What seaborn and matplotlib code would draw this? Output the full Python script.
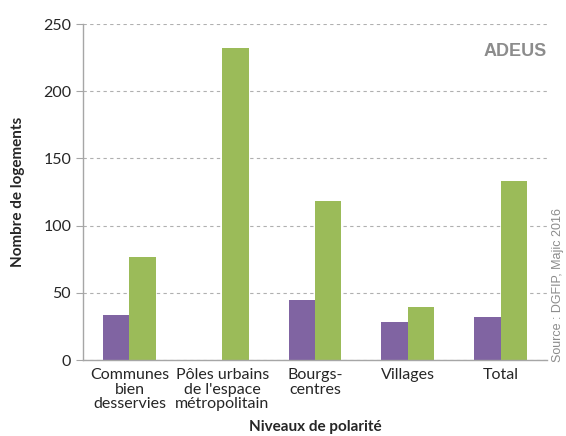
import pandas as pd
import matplotlib.pyplot as plt
import seaborn as sns

categories = ["Communes\nbien\ndesservies", "Pôles urbains\nde l'espace\nmétropolitain",
              "Bourgs-\ncentres", "Villages", "Total"]
serie_a = [33.5, 0, 44.5, 28, 32]
serie_b = [76.5, 232.5, 118, 39.5, 133]
series = ["A", "B"]

df = pd.DataFrame({
    "niveau": categories * 2,
    "serie": [series[0]] * 5 + [series[1]] * 5,
    "valeur": serie_a + serie_b,
})

sns.set_style("white")
plt.rcParams['font.family'] = ['Lato', 'DejaVu Sans']

fig = plt.figure(figsize=(5.66, 4.36), dpi=100)
ax = fig.add_axes([83 / 566, 1 - 360 / 436, 464 / 566, 336 / 436])

sns.barplot(data=df, x="niveau", y="valeur", hue="serie", order=categories,
            palette=["#8064A2", "#9BBB59"], width=0.57, gap=0, saturation=1,
            linewidth=0, legend=False, ax=ax)

ax.set_ylim(0, 250)
ax.set_xlim(-0.5, 4.5)
ax.set_yticks([0, 50, 100, 150, 200, 250])
ax.yaxis.grid(True, linestyle=(0, (3, 3)), color="#b0b0b0", linewidth=0.8)
ax.set_axisbelow(True)

for s in ["top", "right"]:
    ax.spines[s].set_visible(False)
for s in ["left", "bottom"]:
    ax.spines[s].set_color("#a6a6a6")
    ax.spines[s].set_linewidth(1.0)

ax.set_xticks([0, 1, 2, 3, 4])
ax.set_xticklabels(categories, fontsize=11.5, linespacing=1.05)
ax.set_xticks([-0.5, 0.5, 1.5, 2.5, 3.5, 4.5], minor=True)
ax.tick_params(axis="x", which="major", length=0, pad=6)
ax.tick_params(axis="x", which="minor", length=5, color="#a6a6a6", direction="out")
ax.tick_params(axis="y", labelsize=11.5, length=5, color="#a6a6a6", direction="out", left=True)

ax.set_xlabel("Niveaux de polarité", fontsize=11, fontweight="bold", labelpad=6)
ax.set_ylabel("Nombre de logements", fontsize=11, fontweight="bold", labelpad=13)

fig.text(547 / 566, 1 - 52 / 436, "ADEUS", fontsize=13, fontweight="bold",
         color="#8c8c8c", ha="right", va="center", family=["Liberation Sans"])
fig.text(558 / 566, 1 - 285 / 436, "Source : DGFIP, Majic 2016", fontsize=9,
         color="#8c8c8c", rotation=90, ha="center", va="center", family=["Liberation Sans"])

fig.savefig("out.png", dpi=100)
